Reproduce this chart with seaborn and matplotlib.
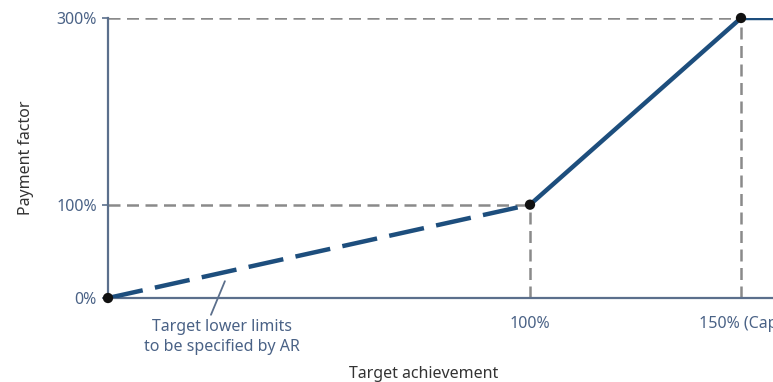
import matplotlib
matplotlib.use("Agg")
import matplotlib.pyplot as plt
import seaborn as sns
import pandas as pd

# Payment curve: target achievement (%) -> payment factor (%)
lower_x = [0, 100]          # dashed part, lower limit still to be set
lower_y = [0, 100]
upper_x = [100, 150, 160]   # solid part up to the cap and beyond
upper_y = [100, 300, 300]
point_x = [0, 100, 150]
point_y = [0, 100, 300]

y_ticks = [0, 100, 300]
y_tick_labels = ["0%", "100%", "300%"]
x_ticks = [100, 150]
x_tick_labels = ["100%", "150% (Cap)"]
note_text = "Target lower limits\nto be specified by AR"

sns.set_theme(style="white")
plt.rcParams["font.family"] = ["Noto Sans", "DejaVu Sans"]

axis_col = "#5b6f8c"
text_col = "#4a6286"
line_col = "#1d4e7d"
guide_col = "#8a8a8a"
fs = 11.5

fig = plt.figure(figsize=(7.73, 3.82), dpi=100)
ax = fig.add_axes([108 / 773, 84 / 382, 1 - 108 / 773, 280 / 382])

# guide lines to the key points
for px, py in zip(point_x[1:], point_y[1:]):
    ax.plot([0, px], [py, py], color=guide_col, lw=1.8, dashes=(4.8, 2.6), zorder=1)
    ax.plot([px, px], [0, py], color=guide_col, lw=1.8, dashes=(4.8, 2.6), zorder=1)

lower = pd.DataFrame({"x": lower_x, "y": lower_y})
upper = pd.DataFrame({"x": upper_x, "y": upper_y})
pts = pd.DataFrame({"x": point_x, "y": point_y})

sns.lineplot(data=lower, x="x", y="y", ax=ax, color=line_col, lw=3.2, zorder=3)
ax.lines[-1].set_dashes((8.0, 2.8))
sns.lineplot(data=upper, x="x", y="y", ax=ax, color=line_col, lw=3.2, zorder=3)
sns.scatterplot(data=pts, x="x", y="y", ax=ax, color="#111111", s=55,
                edgecolor="none", zorder=4, clip_on=False)

ax.set_xlim(0, 665 / 4.22)
ax.set_ylim(0, 300)

ax.set_yticks(y_ticks)
ax.set_yticklabels(y_tick_labels)
ax.set_xticks(x_ticks)
ax.set_xticklabels(x_tick_labels)
ax.tick_params(axis="y", length=4, width=1.2, color=axis_col, colors=text_col,
               labelsize=fs, pad=4, left=True)
ax.tick_params(axis="x", length=0, colors=text_col, labelsize=fs, pad=13)
for lab in ax.get_yticklabels() + ax.get_xticklabels():
    lab.set_color(text_col)

for side in ["top", "right"]:
    ax.spines[side].set_visible(False)
for side in ["left", "bottom"]:
    ax.spines[side].set_color(axis_col)
    ax.spines[side].set_linewidth(1.6)

# note about the open lower limit, with a pointer to the dashed segment
ax.plot([24.4, 27.7], [-18, 18], color=axis_col, lw=1.3, clip_on=False, zorder=2)
ax.text(27, -22, note_text, ha="center", va="top", color=text_col,
        fontsize=fs, linespacing=1.35, clip_on=False)

ax.set_xlabel("Target achievement", color="#333333", fontsize=fs)
ax.xaxis.set_label_coords((424 - 108) / 665, -0.242)
ax.set_ylabel("Payment factor", color="#333333", fontsize=fs)
ax.yaxis.set_label_coords(-0.112, 0.5)

fig.savefig("out.png", dpi=100)
